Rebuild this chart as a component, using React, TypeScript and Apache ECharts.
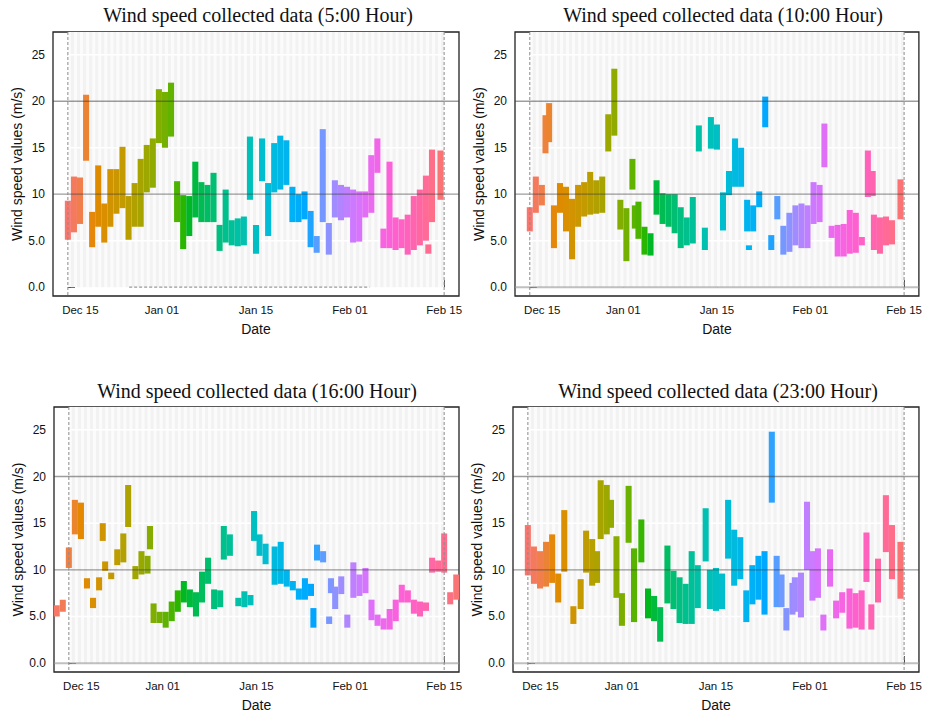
import React, { useEffect, useRef } from "react";
import * as echarts from "echarts";

// Each entry: [day offset from Dec 15 on the date axis, lowest speed, highest speed]
type Seg = [number, number, number];

const dateTickLabels = ["Dec 15", "Jan 01", "Jan 15", "Feb 01", "Feb 15"];
const dateTickDays = [0, 15.5, 31, 46.5, 62];
const speedTicks = [0, 5, 10, 15, 20, 25];
const hourLabels = ["5:00", "10:00", "16:00", "23:00"];

const wind0500: Seg[] = [
  [0, 5.1, 9.3], [1, 5.9, 11.9], [2, 6.8, 11.8], [3, 13.6, 20.7], [4, 4.3, 8.1],
  [5, 6.5, 13.1], [6, 4.8, 9.0], [7, 6.5, 12.7], [8, 7.9, 12.7], [9, 8.5, 15.1],
  [10, 5.1, 9.8], [11, 6.5, 11.2], [12, 6.5, 13.8], [13, 10.2, 15.3], [14, 10.7, 16.0],
  [15, 15.5, 21.3], [16, 15.0, 21.0], [17, 16.2, 22.0], [18, 7.0, 11.4], [19, 4.1, 9.9],
  [20, 5.5, 9.8], [21, 7.5, 13.5], [22, 7.0, 11.3], [23, 7.0, 11.0], [24, 7.0, 12.3],
  [25, 3.9, 6.7], [26, 4.8, 10.5], [27, 4.5, 7.2], [28, 4.4, 7.4], [29, 4.5, 7.6],
  [30, 9.4, 16.2], [31, 3.6, 6.7], [32, 11.4, 16.0], [33, 5.5, 11.2], [34, 10.2, 15.5],
  [35, 10.5, 16.3], [36, 11.0, 15.8], [37, 7.0, 10.8], [38, 7.0, 10.0], [39, 7.3, 10.3],
  [40, 4.3, 8.2], [41, 3.7, 5.5], [42, 7.0, 17.0], [43, 3.5, 6.9], [44, 7.5, 11.5],
  [45, 7.2, 11.0], [46, 7.5, 10.8], [47, 4.8, 10.5], [48, 4.9, 10.3], [49, 7.5, 10.3],
  [50, 8.0, 14.2], [51, 12.3, 16.0], [52, 4.2, 6.3], [53, 4.2, 13.5], [54, 4.0, 7.5],
  [55, 4.2, 7.3], [56, 3.5, 7.8], [57, 4.0, 9.8], [58, 4.5, 10.5], [59, 5.0, 12.0],
  [59.4, 3.6, 4.6], [60, 7.0, 14.8], [61.4, 9.4, 14.7],
];

const wind1000: Seg[] = [
  [0, 6.0, 8.6], [1, 8.0, 11.9], [2, 8.8, 11.0], [2.6, 14.4, 18.5], [3.2, 15.6, 19.8],
  [4, 4.2, 8.8], [5, 8.0, 11.2], [6, 6.0, 10.8], [7, 3.0, 9.5], [8, 6.5, 11.0],
  [9, 7.6, 11.3], [10, 7.8, 12.4], [11, 7.9, 11.5], [12, 8.0, 11.9], [13, 14.6, 18.6],
  [14, 16.3, 23.5], [15, 6.2, 9.4], [16, 2.8, 8.5], [17, 10.5, 13.8], [17.4, 6.3, 8.8],
  [18, 5.2, 9.2], [19, 3.5, 6.5], [20, 3.4, 5.8], [21, 7.8, 11.5], [22, 6.8, 10.1],
  [23, 6.5, 10.0], [24, 5.8, 10.0], [25, 4.2, 8.6], [26, 4.5, 7.5], [27, 4.7, 9.7],
  [28, 14.6, 17.4], [29, 4.0, 6.4], [30, 14.9, 18.3], [31, 14.8, 17.5], [32, 6.1, 10.2],
  [33, 9.9, 12.5], [34, 10.8, 16.0], [35, 10.8, 15.0], [36, 6.0, 9.4], [36.3, 4.0, 4.5],
  [37, 6.0, 8.8], [38, 8.6, 10.3], [39, 17.2, 20.5], [40, 4.0, 5.6], [41, 7.3, 9.8],
  [42, 3.5, 6.6], [43, 3.8, 8.0], [44, 4.5, 8.8], [45, 4.2, 9.0], [46, 4.2, 8.8],
  [47, 6.8, 11.3], [48, 7.0, 11.0], [48.8, 12.9, 17.6], [50, 5.3, 6.6], [51, 3.3, 6.7],
  [52, 3.3, 6.8], [53, 3.6, 8.3], [54, 3.7, 8.0], [55, 4.5, 5.4], [56, 9.7, 14.7],
  [56.8, 9.8, 12.5], [57, 4.0, 7.8], [58, 3.6, 7.5], [59, 4.5, 7.6], [60, 4.6, 7.2],
  [61.4, 7.3, 11.6],
];

const wind1600: Seg[] = [
  [-2, 5.0, 6.2], [-1, 5.5, 6.8], [0, 10.2, 12.4], [1, 13.8, 17.5], [2, 13.3, 17.2],
  [3, 8.0, 9.1], [4, 5.9, 7.0], [5, 7.8, 9.2], [5.6, 13.1, 15.0], [6, 9.9, 10.9],
  [7, 9.0, 9.7], [8, 10.5, 12.2], [9, 10.8, 13.9], [9.8, 14.6, 19.1], [11, 9.0, 10.4],
  [12, 9.5, 12.0], [13, 9.6, 11.5], [13.4, 12.2, 14.7], [14, 4.3, 6.4], [15, 4.3, 5.5],
  [16, 3.8, 5.5], [17, 4.5, 6.6], [18, 5.5, 7.8], [19, 6.5, 8.8], [20, 6.0, 7.9],
  [21, 5.0, 7.6], [22, 6.5, 9.8], [23, 8.5, 11.3], [24, 5.8, 7.9], [25, 6.0, 7.8],
  [25.6, 11.1, 14.7], [26.6, 11.5, 13.8], [28, 6.1, 7.0], [29, 6.0, 7.7], [30, 6.2, 7.3],
  [30.6, 13.1, 16.3], [31.5, 11.5, 13.8], [32.5, 10.6, 12.8], [34, 8.4, 12.5], [35, 8.5, 13.0],
  [36, 8.2, 10.0], [37, 7.8, 8.8], [38, 6.8, 8.0], [39, 6.8, 9.1], [40, 7.2, 8.5],
  [40.4, 3.8, 5.9], [41, 11.0, 12.7], [42, 10.8, 12.0], [43, 4.2, 5.0], [43.3, 7.5, 9.1],
  [44, 5.8, 8.2], [45, 7.4, 9.3], [46, 3.8, 5.2], [47, 7.0, 10.8], [48, 7.2, 9.5],
  [49, 7.5, 10.2], [50, 4.6, 6.8], [51, 4.0, 5.2], [52, 3.6, 4.8], [53, 3.6, 5.8],
  [54, 4.5, 6.8], [55, 6.5, 8.4], [56, 6.5, 7.8], [57, 5.3, 6.8], [58, 5.0, 6.6],
  [59, 5.6, 6.5], [60, 9.7, 11.3], [61, 9.8, 11.0], [62, 9.7, 13.9], [63, 6.3, 7.6],
  [64, 6.8, 9.5],
];

const wind2300: Seg[] = [
  [0, 9.4, 14.8], [1, 8.5, 12.5], [2, 8.0, 12.0], [3, 8.2, 13.0], [4, 8.6, 13.8],
  [5, 6.5, 9.6], [6, 9.8, 16.4], [7.5, 4.2, 6.1], [8.7, 5.8, 9.0], [9.6, 9.7, 14.2],
  [10.6, 8.3, 13.3], [11.4, 8.6, 12.0], [12, 13.3, 19.6], [13, 13.8, 19.1], [13.7, 14.5, 17.5],
  [14.6, 7.0, 13.6], [15.5, 4.0, 7.5], [16.6, 12.9, 19.0], [17.5, 4.4, 12.3], [18.7, 10.8, 15.4],
  [19.8, 4.8, 8.0], [20.8, 4.5, 7.2], [21.8, 2.3, 6.0], [23, 6.4, 12.6], [24, 5.8, 9.9],
  [25, 4.3, 9.2], [26, 4.2, 8.5], [27, 4.2, 12.0], [28, 5.9, 10.5], [29.3, 10.9, 16.6],
  [30, 5.8, 10.0], [31, 5.6, 10.2], [32, 5.8, 9.6], [33, 11.2, 17.5], [34, 8.3, 14.3],
  [35, 9.0, 13.5], [36, 4.4, 7.8], [37, 6.3, 10.5], [38, 6.8, 11.5], [39, 5.2, 12.0],
  [40.2, 17.2, 24.8], [41, 6.0, 11.5], [41.8, 6.0, 9.5], [42.6, 3.5, 5.9], [43.6, 5.2, 8.6],
  [44, 5.5, 9.2], [45, 4.9, 9.7], [46, 10.0, 17.3], [46.9, 6.7, 12.0], [47.8, 7.0, 12.3],
  [48.7, 3.5, 5.2], [49.8, 8.2, 12.2], [50.8, 4.8, 6.7], [51.8, 5.4, 7.6], [53, 3.7, 8.0],
  [54, 3.8, 7.5], [55, 3.6, 7.8], [55.8, 8.7, 14.0], [56.6, 3.6, 6.3], [57.7, 6.5, 11.2],
  [59, 11.9, 18.0], [60, 9.0, 14.8], [61.4, 6.9, 13.0],
];

const X_MIN = -2.45;
const X_MAX = 64.45;
const Y_MIN = -0.95;
const Y_MAX = 27.45;
const SPAN_START = 0;
const SPAN_END = 62;

const SANS = "Liberation Sans, Arial, sans-serif";
const SERIF = "Liberation Serif, Times New Roman, serif";

// ggplot-style hue colour (polar CIE-Luv) converted to sRGB
function hclColor(h: number, c = 100, l = 65): string {
  const hr = (h * Math.PI) / 180;
  const U = c * Math.cos(hr);
  const V = c * Math.sin(hr);
  const Xn = 95.047, Yn = 100, Zn = 108.883;
  const un = (4 * Xn) / (Xn + 15 * Yn + 3 * Zn);
  const vn = (9 * Yn) / (Xn + 15 * Yn + 3 * Zn);
  const Y = l > 8 ? Yn * Math.pow((l + 16) / 116, 3) : (Yn * l) / 903.3;
  const u = U / (13 * l) + un;
  const v = V / (13 * l) + vn;
  const X = (9 * Y * u) / (4 * v);
  const Z = -X / 3 - 5 * Y + (3 * Y) / v;
  const x = X / 100, y = Y / 100, z = Z / 100;
  const lin = [
    3.240479 * x - 1.53715 * y - 0.498535 * z,
    -0.969256 * x + 1.875992 * y + 0.041556 * z,
    0.055648 * x - 0.204043 * y + 1.057311 * z,
  ];
  const gam = (t: number) => {
    const k = Math.min(1, Math.max(0, t));
    return k <= 0.0031308 ? 12.92 * k : 1.055 * Math.pow(k, 1 / 2.4) - 0.055;
  };
  const [r, g, b] = lin.map((t) => Math.round(gam(t) * 255));
  return `rgb(${r},${g},${b})`;
}

interface Panel {
  data: Seg[];
  grid: { left: number; top: number; width: number; height: number };
  titleX: number;
  titleY: number;
  hue: [number, number];
  zeroDashed: boolean;
}

const panels: Panel[] = [
  { data: wind0500, grid: { left: 53, top: 32, width: 406, height: 264 }, titleX: 258, titleY: 15, hue: [0, 62], zeroDashed: true },
  { data: wind1000, grid: { left: 515, top: 32, width: 406, height: 264 }, titleX: 723, titleY: 15, hue: [0, 62], zeroDashed: false },
  { data: wind1600, grid: { left: 54, top: 407, width: 405, height: 265 }, titleX: 257, titleY: 391, hue: [-2.5, 64.5], zeroDashed: false },
  { data: wind2300, grid: { left: 513, top: 407, width: 406, height: 265 }, titleX: 718, titleY: 391, hue: [0, 62], zeroDashed: false },
];

function findTick(v: number): number {
  for (let i = 0; i < dateTickDays.length; i++) {
    if (Math.abs(dateTickDays[i] - v) < 1e-6) return i;
  }
  return -1;
}

function buildOption(): echarts.EChartsOption {
  const grid: any[] = [];
  const xAxis: any[] = [];
  const yAxis: any[] = [];
  const series: any[] = [];
  const graphic: any[] = [];

  panels.forEach((p, i) => {
    grid.push({
      ...p.grid,
      show: true,
      backgroundColor: "#ffffff",
      borderColor: "#222",
      borderWidth: 1.3,
      containLabel: false,
    });

    xAxis.push({
      type: "value",
      gridIndex: i,
      min: X_MIN,
      max: X_MAX,
      name: "Date",
      nameLocation: "middle",
      nameGap: 26,
      nameTextStyle: { fontFamily: SANS, fontSize: 14, color: "#111" },
      axisLine: { show: false },
      axisTick: { show: true, inside: true, length: 7, customValues: dateTickDays, lineStyle: { color: "#222", width: 1 } },
      axisLabel: {
        customValues: dateTickDays,
        margin: 8,
        fontFamily: SANS,
        fontSize: 11.5,
        color: "#111",
        formatter: (v: number) => {
          const k = findTick(v);
          if (k < 0) return "";
          return k === 0 ? `{first|${dateTickLabels[k]}}` : dateTickLabels[k];
        },
        rich: { first: { padding: [0, 0, 0, 25], fontFamily: SANS, fontSize: 11.5, color: "#111" } },
      },
      splitLine: { show: false },
    });

    yAxis.push({
      type: "value",
      gridIndex: i,
      min: Y_MIN,
      max: Y_MAX,
      name: "Wind speed values (m/s)",
      nameLocation: "middle",
      nameGap: 29,
      nameRotate: 90,
      nameTextStyle: { fontFamily: SANS, fontSize: 14, color: "#111" },
      axisLine: { show: false },
      axisTick: { show: true, inside: true, length: 7, customValues: speedTicks, lineStyle: { color: "#222", width: 1 } },
      axisLabel: {
        customValues: speedTicks,
        margin: 8,
        fontFamily: SANS,
        fontSize: 12,
        color: "#111",
        formatter: (v: number) => (v < 10 ? v.toFixed(1) : String(v)),
      },
      splitLine: { show: false },
    });

    // striped panel background over the collection period
    series.push({
      type: "custom",
      xAxisIndex: i,
      yAxisIndex: i,
      silent: true,
      z: 1,
      clip: true,
      data: [[SPAN_START, 0]],
      encode: { x: 0, y: 1 },
      renderItem: (_params: any, api: any) => {
        const tl = api.coord([SPAN_START, Y_MAX]);
        const br = api.coord([SPAN_END, 0]);
        const children: any[] = [
          { type: "rect", shape: { x: tl[0], y: tl[1], width: br[0] - tl[0], height: br[1] - tl[1] }, style: { fill: "#fbfbfb" } },
        ];
        for (let d = SPAN_START; d < SPAN_END; d++) {
          const a = api.coord([d + 0.5, 0])[0];
          const b = api.coord([d + 1, 0])[0];
          children.push({ type: "rect", shape: { x: a, y: tl[1], width: b - a, height: br[1] - tl[1] }, style: { fill: "#f2f2f2" } });
        }
        [5, 15, 25].forEach((v) => {
          const yy = api.coord([0, v])[1];
          children.push({ type: "line", shape: { x1: tl[0], y1: yy, x2: br[0], y2: yy }, style: { stroke: "#ffffff", lineWidth: 1.5 } });
        });
        return { type: "group", children };
      },
    });

    // wind speed ranges, coloured along the date axis
    const [h0, h1] = p.hue;
    series.push({
      type: "custom",
      name: `${hourLabels[i]} Hour`,
      xAxisIndex: i,
      yAxisIndex: i,
      z: 2,
      clip: true,
      data: p.data,
      encode: { x: 0, y: [1, 2] },
      renderItem: (_params: any, api: any) => {
        const d = api.value(0);
        const lo = api.value(1);
        const hi = api.value(2);
        const a = api.coord([d - 0.5, hi]);
        const b = api.coord([d + 0.5, lo]);
        const hue = 15 + (360 * (d - h0)) / (h1 - h0);
        return {
          type: "rect",
          shape: { x: a[0], y: a[1], width: b[0] - a[0], height: b[1] - a[1] },
          style: { fill: hclColor(hue) },
        };
      },
    });

    // reference lines drawn over the data
    series.push({
      type: "custom",
      xAxisIndex: i,
      yAxisIndex: i,
      silent: true,
      z: 3,
      clip: true,
      data: [[SPAN_START, 0]],
      encode: { x: 0, y: 1 },
      renderItem: (_params: any, api: any) => {
        const left = api.coord([X_MIN, 0])[0];
        const right = api.coord([X_MAX, 0])[0];
        const children: any[] = [];
        [10, 20].forEach((v) => {
          const yy = api.coord([0, v])[1];
          children.push({ type: "line", shape: { x1: left, y1: yy, x2: right, y2: yy }, style: { stroke: "rgba(60,60,60,0.5)", lineWidth: 1.3 } });
        });
        const y0 = api.coord([0, 0])[1];
        if (p.zeroDashed) {
          const xa = api.coord([10.1, 0])[0];
          const xb = api.coord([49.7, 0])[0];
          children.push({ type: "line", shape: { x1: xa, y1: y0, x2: xb, y2: y0 }, style: { stroke: "#9a9a9a", lineWidth: 1.2, lineDash: [3, 2] } });
        } else {
          children.push({ type: "line", shape: { x1: left, y1: y0, x2: right, y2: y0 }, style: { stroke: "rgba(150,150,150,0.6)", lineWidth: 2 } });
        }
        const top = api.coord([0, Y_MAX])[1];
        const bottom = api.coord([0, Y_MIN])[1];
        [SPAN_START, SPAN_END].forEach((d) => {
          const xx = api.coord([d, 0])[0];
          children.push({ type: "line", shape: { x1: xx, y1: top, x2: xx, y2: bottom }, style: { stroke: "#8c8c8c", lineWidth: 1, lineDash: [3, 2] } });
        });
        return { type: "group", children };
      },
    });

    graphic.push({
      type: "text",
      x: p.titleX,
      y: p.titleY,
      silent: true,
      style: {
        text: `Wind speed collected data (${hourLabels[i]} Hour)`,
        fontFamily: SERIF,
        fontSize: 20,
        fill: "#111",
        align: "center",
        verticalAlign: "middle",
        textAlign: "center",
        textVerticalAlign: "middle",
      },
    });
  });

  return {
    animation: false,
    backgroundColor: "#ffffff",
    grid,
    xAxis,
    yAxis,
    series,
    graphic,
  } as any;
}

export default function App() {
  const ref = useRef<HTMLDivElement>(null);

  useEffect(() => {
    if (!ref.current) return;
    const chart = echarts.init(ref.current, undefined, { renderer: "svg" });
    chart.setOption(buildOption());
    return () => chart.dispose();
  }, []);

  return (
    <div
      ref={ref}
      style={{ position: "fixed", left: 0, top: 0, width: 925, height: 714, background: "#ffffff" }}
    />
  );
}
